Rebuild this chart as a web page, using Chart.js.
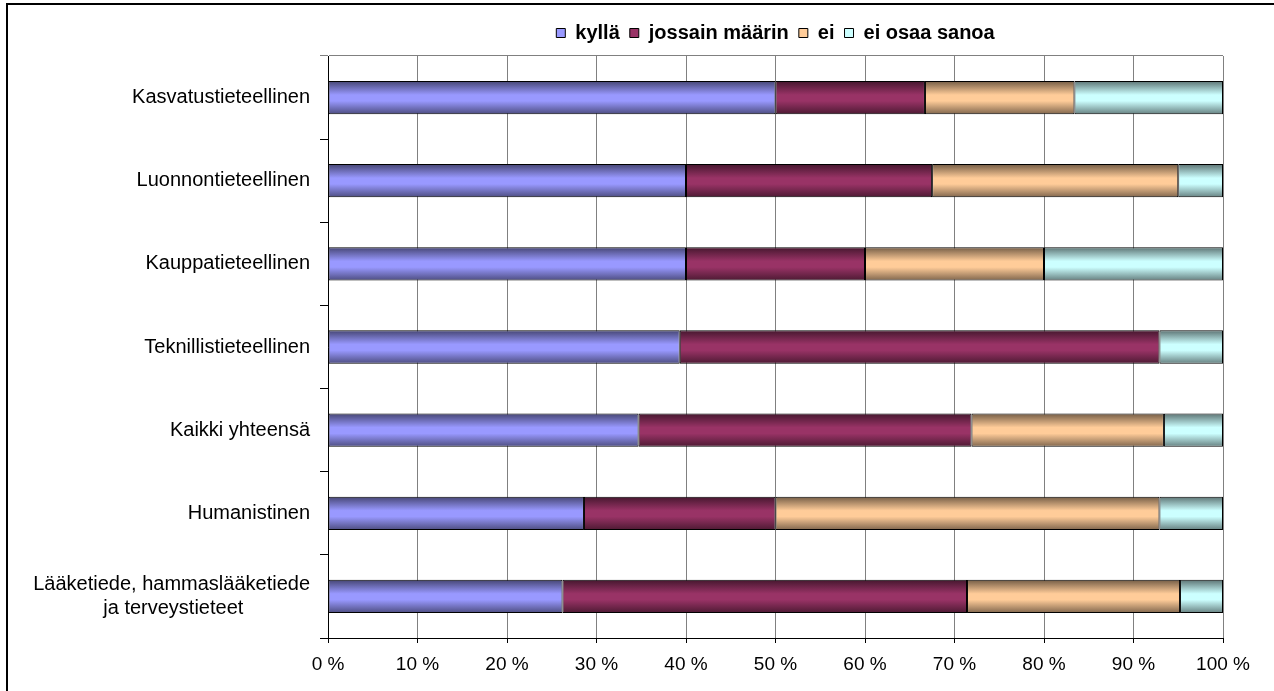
<!DOCTYPE html>
<html>
<head>
<meta charset="utf-8">
<script src="https://cdn.jsdelivr.net/npm/chart.js@4.4.0/dist/chart.umd.min.js"></script>
<style>
  html, body { margin: 0; padding: 0; background: #fff; }
  #wrap { width: 1274px; height: 691px; position: relative; }
</style>
</head>
<body>
<div id="wrap"><canvas id="myChart"></canvas></div>
<script>
// categories, top to bottom
const categories = [
  "Kasvatustieteellinen",
  "Luonnontieteellinen",
  "Kauppatieteellinen",
  "Teknillistieteellinen",
  "Kaikki yhteensä",
  "Humanistinen",
  ["Lääketiede, hammaslääketiede", "ja terveystieteet            "]
];

// shares in percent
const kylla   = [50.0, 40.0, 40.0, 39.3, 34.7, 28.6, 26.2];
const jossain = [16.7, 27.5, 20.0, 53.6, 37.2, 21.4, 45.2];
const ei      = [16.7, 27.5, 20.0, 0.0, 21.5, 42.9, 23.8];
const eiOsaa  = [16.6, 5.0, 20.0, 7.1, 6.6, 7.1, 4.8];

const seriesNames = ["kyllä", "jossain määrin", "ei", "ei osaa sanoa"];
const seriesColors = ["#9999FF", "#993366", "#FFCC99", "#CCFFFF"];
const xTickSuffix = " %";

const FONT = "'Liberation Sans', Arial, sans-serif";

function shade(hex, f) {
  const n = parseInt(hex.slice(1), 16);
  const r = Math.round(((n >> 16) & 255) * f);
  const g = Math.round(((n >> 8) & 255) * f);
  const b = Math.round((n & 255) * f);
  return "rgb(" + r + "," + g + "," + b + ")";
}

// vertical shading like the old office charts
function barFill(color) {
  return function (context) {
    const chart = context.chart;
    const y = chart.scales && chart.scales.y;
    if (!y || context.type !== "data") return color;
    const c = y.getPixelForValue(context.dataIndex);
    const half = (y.height / categories.length) * 0.4 / 2;
    if (!isFinite(c) || !isFinite(half)) return color;
    const g = chart.ctx.createLinearGradient(0, c - half, 0, c + half);
    g.addColorStop(0, shade(color, 0.45));
    g.addColorStop(0.42, color);
    g.addColorStop(0.6, color);
    g.addColorStop(1, shade(color, 0.5));
    return g;
  };
}

const seriesData = [kylla, jossain, ei, eiOsaa];

const data = {
  labels: categories,
  datasets: seriesNames.map((name, i) => ({
    label: name,
    data: seriesData[i],
    backgroundColor: barFill(seriesColors[i]),
    borderColor: "#000",
    borderWidth: 1,
    borderSkipped: false,
    barPercentage: 0.4,
    categoryPercentage: 1.0
  }))
};

const frame = {
  id: "frame",
  beforeDraw(chart) {
    const c = chart.ctx;
    c.save();
    c.fillStyle = "#fff";
    c.fillRect(0, 0, chart.width, chart.height);
    c.strokeStyle = "#000";
    c.lineWidth = 2;
    c.beginPath();
    c.moveTo(7, chart.height);
    c.lineTo(7, 4);
    c.lineTo(chart.width, 4);
    c.stroke();
    c.restore();
  }
};

// keep the legend band short so the plot starts where it should
const legendHeight = {
  id: "legendHeight",
  beforeLayout(chart) {
    const lg = chart.legend;
    if (lg && !lg._fixed) {
      const fit = lg.fit;
      lg.fit = function () { fit.call(this); this.height = 43; };
      lg._fixed = true;
    }
  }
};

const config = {
  type: "bar",
  data: data,
  plugins: [frame, legendHeight],
  options: {
    indexAxis: "y",
    responsive: true,
    maintainAspectRatio: false,
    animation: false,
    layout: { padding: { left: 0, right: 51, top: 13, bottom: 0 } },
    plugins: {
      tooltip: { enabled: false },
      legend: {
        position: "top",
        fullSize: false,
        labels: {
          color: "#000",
          font: { family: FONT, size: 20, weight: "bold" },
          boxWidth: 9,
          boxHeight: 9,
          padding: 10,
          generateLabels: (chart) =>
            Chart.defaults.plugins.legend.labels.generateLabels(chart).map((l, i) => ({
              ...l,
              fillStyle: seriesColors[i],
              strokeStyle: "#000",
              lineWidth: 1
            }))
        }
      }
    },
    scales: {
      x: {
        stacked: true,
        min: 0,
        max: 100,
        ticks: {
          stepSize: 10,
          color: "#000",
          font: { family: FONT, size: 19 },
          padding: 10,
          maxRotation: 0,
          autoSkip: false,
          callback: (v) => v + xTickSuffix
        },
        grid: { color: "#808080", tickColor: "#000", tickLength: 5, lineWidth: 1 },
        border: { color: "#000", width: 1 },
        afterFit: (s) => { s.height = 53; }
      },
      y: {
        stacked: true,
        ticks: {
          color: "#000",
          font: { family: FONT, size: 20 },
          padding: 10,
          autoSkip: false
        },
        grid: {
          offset: true,
          drawOnChartArea: true,
          color: (ctx) => (ctx.index === 0 ? "#808080" : "rgba(0,0,0,0)"),
          tickColor: (ctx) => (ctx.index === 0 ? "#808080" : "#000"),
          tickLength: 8
        },
        border: { color: "#000", width: 1 },
        afterFit: (s) => { s.width = 328; }
      }
    }
  }
};

var myChart = new Chart(document.getElementById("myChart"), config);
</script>
</body>
</html>
